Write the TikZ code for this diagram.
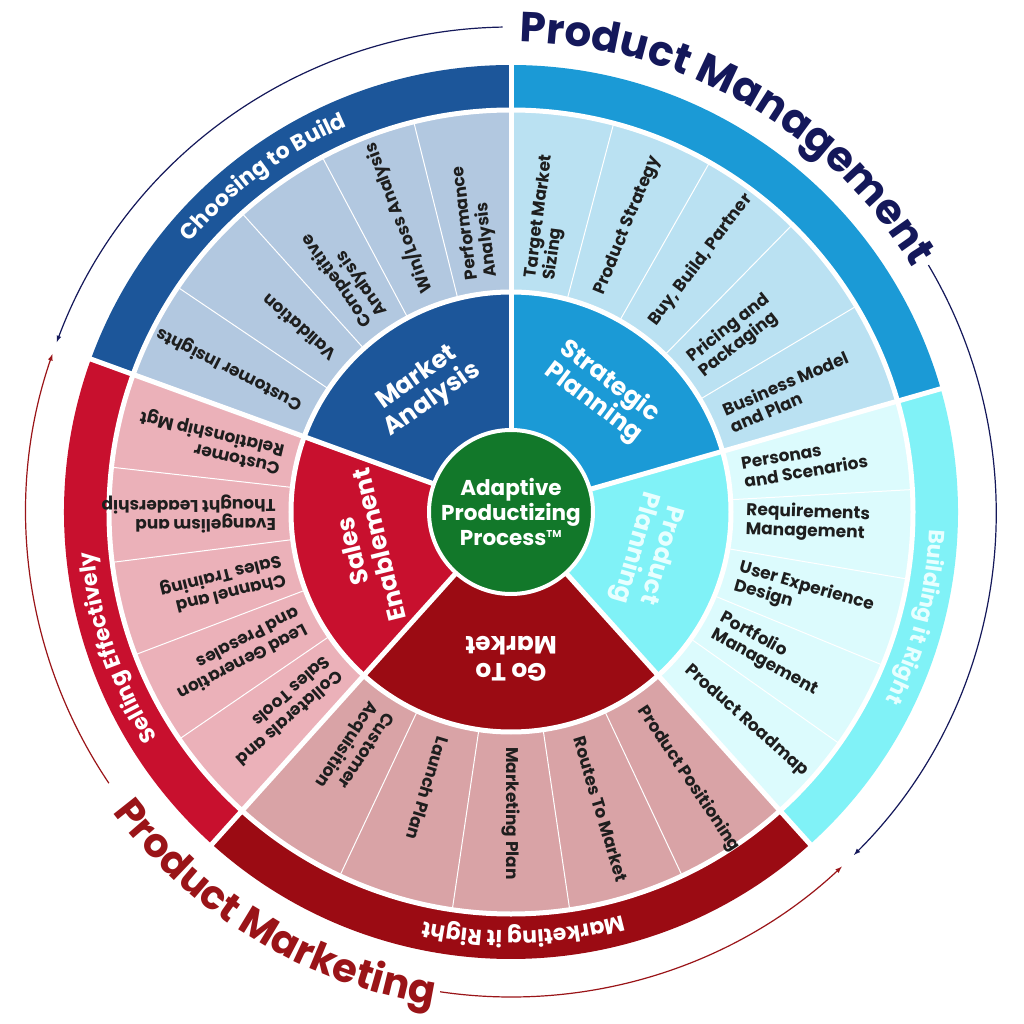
\documentclass[tikz,border=0pt]{standalone}
\usepackage{fontspec}
\setmainfont{Poppins}
\usepackage{tikz}
\usetikzlibrary{arrows,calc,decorations.text}
\definecolor{madark}{RGB}{28,86,154}
\definecolor{malight}{RGB}{178,200,224}
\definecolor{spdark}{RGB}{27,154,214}
\definecolor{splight}{RGB}{186,225,242}
\definecolor{ppdark}{RGB}{128,242,247}
\definecolor{pplight}{RGB}{220,251,253}
\definecolor{pptext}{RGB}{232,255,255}
\definecolor{gmdark}{RGB}{155,11,19}
\definecolor{gmlight}{RGB}{217,163,166}
\definecolor{sedark}{RGB}{200,16,46}
\definecolor{selight}{RGB}{235,177,185}
\definecolor{hubgreen}{RGB}{18,120,42}
\definecolor{pmnavy}{RGB}{20,24,90}
\definecolor{pmred}{RGB}{154,20,24}
\definecolor{entrytext}{RGB}{30,30,30}
\newcommand{\entryfont}{\fontsize{17}{19}\selectfont\bfseries}
\newcommand{\headfont}{\fontsize{25}{27}\selectfont\bfseries}
\newcommand{\hubfont}{\fontsize{21.5}{25}\selectfont\bfseries}
\newcommand{\bandwhite}{\fontsize{22}{24}\selectfont\bfseries\color{white}}
\newcommand{\bandcyan}{\fontsize{22}{24}\selectfont\bfseries\color{pptext}}
\newcommand{\mgmtfont}{\fontsize{42}{44}\selectfont\bfseries\color{pmnavy}}
\newcommand{\mktfont}{\fontsize{40}{42}\selectfont\bfseries\color{pmred}}
\tikzstyle{entry}=[anchor=west,align=left,font=\entryfont,text=entrytext,inner sep=0pt]
\tikzstyle{heading}=[align=center,font=\headfont,text=white,inner sep=0pt]
\tikzstyle{whitegap}=[draw=white,line width=5pt]
\tikzstyle{divider}=[draw=white,line width=1pt]
\tikzstyle{cyclearc}=[draw,line width=1.2pt,-latex]

\begin{document}
\begin{tikzpicture}[x=1pt,y=1pt]
    \useasboundingbox[fill=white] (-511,-512) rectangle (513,512);

    % First we draw the five sectors: dark core, light ring, outer band
    \foreach \a/\b/\dark/\light in {90/160/madark/malight, 16/90/spdark/splight,
        -48/16/ppdark/pplight, -132/-48/gmdark/gmlight, 160/228/sedark/selight}
    {
        \fill[\dark] (0,0) -- (\a:220) arc[start angle=\a,end angle=\b,radius=220] -- cycle;
        \fill[\light] (\a:220) arc[start angle=\a,end angle=\b,radius=220]
            -- (\b:402) arc[start angle=\b,end angle=\a,radius=402] -- cycle;
        \fill[\dark] (\a:402) arc[start angle=\a,end angle=\b,radius=402]
            -- (\b:447) arc[start angle=\b,end angle=\a,radius=447] -- cycle;
    }

    % thin lines between the entries of each light ring
    \foreach \ang in {104,118,132,146, 75.2,60.4,45.6,30.8, 3.2,-9.6,-22.4,-35.2,
        -64.8,-81.6,-98.4,-115.2, 173.6,187.2,200.8,214.4}
        \path[divider] (\ang:220) -- (\ang:402);

    % white gaps
    \path[whitegap] (0,0) circle[radius=220];
    \path[whitegap] (0,0) circle[radius=402];
    \foreach \ang in {90,16,-48,-132,160}
        \path[whitegap] (0,0) -- (\ang:452);

    % the hub
    \node[circle,fill=hubgreen,draw=white,line width=4pt,minimum size=164pt,
        inner sep=0pt,align=center,font=\hubfont,text=white] (hub) at (0,0)
        {Adaptive\\Productizing\\Process\textsuperscript{\fontsize{10}{10}\selectfont TM}};

    % sector headings
    \node[heading,rotate=35] (market) at (125:150) {Market\\Analysis};
    \node[heading,rotate=-37] (strategic) at (53:150) {Strategic\\Planning};
    \node[heading,rotate=-106,text=pptext] (planning) at (-16:142) {Product\\Planning};
    \node[heading,rotate=180] (gotomarket) at (-90:147) {Go To\\Market};
    \node[heading,rotate=104] (sales) at (194:150) {Sales\\Enablement};

    % entries of the light rings
    \foreach \ang/\txt [count=\i] in {97/{Performance\\Analysis}, 111/{Win/Loss Analysis},
        125/{Competitive\\Analysis}, 139/{Validation}, 153/{Customer Insights}}
        \node[entry,rotate=\ang] (ma\i) at (\ang:235) {\txt};
    \foreach \ang/\txt [count=\i] in {82.6/{Target Market\\Sizing}, 67.8/{Product Strategy},
        53/{Buy, Build, Partner}, 38.2/{Pricing and\\Packaging}, 23.4/{Business Model\\and Plan}}
        \node[entry,rotate=\ang] (sp\i) at (\ang:235) {\txt};
    \foreach \ang/\txt [count=\i] in {9.6/{Personas\\and Scenarios}, -2/{Requirements\\Management},
        -16/{User Experience\\Design}, -28.8/{Portfolio\\Management}, -41.6/{Product Roadmap}}
        \node[entry,rotate=\ang] (pp\i) at (\ang:235) {\txt};
    \foreach \ang/\txt [count=\i] in {-56.4/{Product Positioning}, -73.2/{Routes To Market},
        -90/{Marketing Plan}, -106.8/{Launch Plan}, -123.6/{Customer\\Acquisition}}
        \node[entry,rotate=\ang] (gm\i) at (\ang:235) {\txt};
    \foreach \ang/\txt [count=\i] in {166.8/{Customer\\Relationship Mgt},
        180.4/{Evangelism and\\Thought Leadership}, 194/{Channel and\\Sales Training},
        207.6/{Lead Generation\\and Presales}, 221.2/{Collaterals and\\Sales Tools}}
        \node[entry,rotate=\ang] (se\i) at (\ang:235) {\txt};

    % band labels
    \path[decorate,decoration={text along path,text align=center,
        text={|\bandwhite|Choosing to Build}}]
        (166.5:419) arc[start angle=166.5,end angle=86.5,radius=419];
    \path[decorate,decoration={text along path,text align=center,
        text={|\bandcyan|Building it Right}}]
        (25.5:419) arc[start angle=25.5,end angle=-54.5,radius=419];
    \path[decorate,decoration={text along path,text align=center,
        text={|\bandwhite|Marketing it Right}}]
        (-48.3:419) arc[start angle=-48.3,end angle=-128.3,radius=419];
    \path[decorate,decoration={text along path,text align=center,
        text={|\bandwhite|Selling Effectively}}]
        (239:419) arc[start angle=239,end angle=159,radius=419];

    % outer titles
    \path[decorate,decoration={text along path,text={|\mgmtfont|Product Management}}]
        (89:470) arc[start angle=89,end angle=0,radius=470];
    \path[decorate,decoration={text along path,text={|\mktfont|Product Marketing}}]
        (217:499) arc[start angle=217,end angle=300,radius=499];

    % the cycle arrows
    \coordinate (mgmtA) at (91:485);
    \coordinate (mgmtB) at (30.6:485);
    \coordinate (mktA) at (214:485);
    \coordinate (mktB) at (261.6:485);
    \path[cyclearc,pmnavy] (mgmtA) arc[start angle=91,end angle=159.5,radius=485];
    \path[cyclearc,pmnavy] (mgmtB) arc[start angle=30.6,end angle=-45,radius=485];
    \path[cyclearc,pmred] (mktA) arc[start angle=214,end angle=161,radius=485];
    \path[cyclearc,pmred] (mktB) arc[start angle=261.6,end angle=313,radius=485];
\end{tikzpicture}
\end{document}
